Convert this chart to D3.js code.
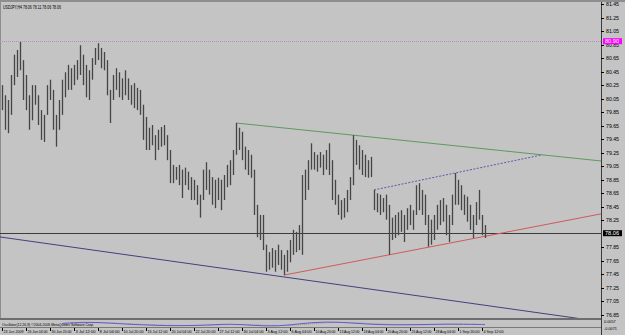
<!DOCTYPE html>
<html lang="en">
<head>
<meta charset="utf-8" />
<title>USDJPY H4</title>
<script src="https://cdnjs.cloudflare.com/ajax/libs/d3/7.8.5/d3.min.js"></script>
<style>
    body { margin: 0; background: #c4c4c4; }
    svg { display: block; font-family: "Liberation Sans", "DejaVu Sans", sans-serif; }
</style>
</head>
<body>
<div id="vis"></div>
<script type="text/javascript">
    // ---- data (price, per H4 bar) ----
    var symbolTitle = "USDJPY,H4  78.06 78.11 78.06 78.06";
    var indicatorTitle = "Oscillator(12,26,9) \u00a92004-2005 MetaQuotes Software Corp.";

    var highs = [80.25, 80.10, 80.03, 80.40, 80.70, 80.77, 80.89, 80.62, 80.40, 80.10,
        80.25, 80.25, 80.10, 79.88, 79.81, 80.25, 80.33, 80.18, 79.81, 80.03,
        80.33, 80.44, 80.55, 80.50, 80.55, 80.62, 80.84, 80.70, 80.55, 80.47,
        80.65, 80.80, 80.87, 80.80, 80.74, 80.62, 80.18, 80.40, 80.50, 80.44,
        80.35, 80.47, 80.35, 80.25, 80.28, 80.21, 80.18, 79.96, 79.78, 79.62,
        79.66, 79.51, 79.59, 79.63, 79.66, 79.51, 79.29, 79.07, 79.04, 79.07,
        79.00, 79.03, 78.97, 78.89, 78.85, 78.77, 78.63, 79.00, 79.11, 79.00,
        78.89, 78.85, 78.88, 78.85, 78.92, 79.07, 79.14, 79.29, 79.69, 79.62,
        79.56, 79.34, 79.29, 79.22, 79.00, 78.48, 78.33, 78.33, 77.89, 77.78,
        77.84, 77.81, 77.89, 77.81, 77.74, 77.81, 77.96, 78.11, 78.08, 78.18,
        78.92, 79.00, 79.14, 79.39, 79.26, 79.22, 79.26, 79.22, 79.29, 79.39,
        79.14, 78.85, 78.63, 78.55, 78.58, 78.70, 78.89, 79.51, 79.44, 79.36,
        79.29, 79.22, 79.14, 79.19, 78.70, 78.65, 78.63, 78.58, 78.63, 78.48,
        78.29, 78.33, 78.37, 78.40, 78.33, 78.43, 78.48, 78.40, 78.77, 78.80,
        78.70, 78.63, 78.33, 78.26, 78.33, 78.48, 78.55, 78.58, 78.48, 78.33,
        78.63, 78.95, 78.85, 78.77, 78.63, 78.60, 78.48, 78.33, 78.52, 78.70,
        78.33, 78.18];

    var lows = [79.88, 79.59, 79.54, 79.81, 80.25, 80.37, 80.47, 80.03, 79.88, 79.59,
        79.73, 79.96, 79.66, 79.44, 79.41, 79.81, 80.03, 79.59, 79.34, 79.59,
        79.81, 80.07, 80.18, 80.18, 80.25, 80.33, 80.40, 80.25, 80.07, 80.03,
        80.33, 80.55, 80.62, 80.50, 80.47, 80.10, 79.69, 80.03, 80.18, 80.07,
        80.03, 80.10, 80.03, 79.96, 79.91, 79.88, 79.81, 79.44, 79.29, 79.29,
        79.36, 79.14, 79.29, 79.34, 79.36, 79.14, 78.80, 78.80, 78.85, 78.77,
        78.58, 78.77, 78.70, 78.55, 78.55, 78.48, 78.29, 78.55, 78.70, 78.63,
        78.48, 78.43, 78.55, 78.40, 78.55, 78.74, 78.77, 78.92, 79.22, 79.29,
        79.14, 79.00, 78.92, 78.88, 78.33, 78.00, 77.96, 77.81, 77.49, 77.52,
        77.55, 77.49, 77.59, 77.52, 77.44, 77.49, 77.63, 77.74, 77.78, 77.81,
        77.74, 78.55, 78.70, 79.00, 79.00, 78.97, 79.03, 78.92, 79.00, 78.92,
        78.55, 78.48, 78.33, 78.26, 78.29, 78.37, 78.55, 78.77, 79.07, 79.00,
        78.92, 78.89, 78.88, 78.89, 78.40, 78.37, 78.33, 78.37, 78.26, 77.74,
        77.96, 77.99, 78.03, 78.08, 77.93, 78.11, 78.18, 78.11, 78.33, 78.40,
        78.33, 78.18, 77.86, 77.89, 77.96, 78.11, 78.18, 78.23, 78.03, 77.93,
        78.18, 78.48, 78.48, 78.40, 78.33, 78.23, 78.11, 77.99, 78.18, 78.26,
        78.03, 77.99];

    var lastPrice = 78.06;
    var levelPrice = 80.90;

    var priceTicks = [81.45, 81.25, 81.05, 80.85, 80.65, 80.45, 80.25, 80.05, 79.85, 79.65,
        79.45, 79.25, 79.05, 78.85, 78.65, 78.45, 78.25, 77.85, 77.65, 77.45, 77.25, 77.05, 76.85];

    var timeBars = [0, 8, 16, 24, 32, 40, 48, 56, 64, 72, 80, 88, 96, 104, 112, 120, 128, 136, 144, 152, 160];
    var timeLabels = ["23 Jun 2009", "26 Jun 04:00", "30 Jun 20:00", "3 Jul 12:00", "8 Jul 04:00",
        "10 Jul 20:00", "15 Jul 12:00", "20 Jul 04:00", "22 Jul 20:00", "27 Jul 12:00", "30 Jul 04:00",
        "3 Aug 12:00", "6 Aug 04:00", "10 Aug 20:00", "13 Aug 12:00", "18 Aug 04:00", "20 Aug 20:00",
        "25 Aug 12:00", "28 Aug 04:00", "1 Sep 20:00", "4 Sep 12:00"];

    // trend lines: two anchor bars/prices each
    var greenLine = [[78, 79.69], [117, 79.51]];
    var redLine = [[94, 77.44], [129, 77.74]];
    var navyLine = [[0, 78.00], [88, 77.45]];
    var dotLine = [[124, 78.70], [151, 78.95]];

    // sub window oscillator, sampled every 8 bars
    var oscBars = [20, 28, 36, 44, 52, 60, 68, 76, 84, 92, 100, 108, 116, 124, 132, 140, 148, 156, 161];
    var oscMain = [0.2, 0.7, 0.3, -0.2, -0.5, -0.6, -0.4, 0.1, -0.5, -0.8, 0.2, 0.8, 0.4, -0.2, -0.3, -0.2, 0.0, -0.1, -0.2];
    var oscSignal = [0.0, 0.4, 0.5, 0.0, -0.3, -0.5, -0.5, -0.1, -0.2, -0.6, -0.3, 0.5, 0.6, 0.1, -0.2, -0.3, -0.1, -0.1, -0.1];

    // ---- layout ----
    var W = 625, H = 335;
    var plotRight = 601, plotTop = 3, plotBottom = 318;
    var subTop = 321, subBottom = 327;

    var x = d3.scaleLinear().domain([0, 1]).range([2, 5]);
    var y = d3.scaleLinear().domain([76.85, 81.45]).range([315, 4]);
    var yOsc = d3.scaleLinear().domain([-1, 1]).range([subBottom, subTop]);

    var svg = d3.select("#vis").append("svg")
        .attr("width", W).attr("height", H);

    svg.append("rect").attr("width", W).attr("height", H).attr("fill", "#c4c4c4");
    svg.append("rect").attr("width", W).attr("height", 2).attr("fill", "#8e8e8e");
    svg.append("line").attr("x1", 0.5).attr("x2", 0.5).attr("y1", 2).attr("y2", plotBottom)
        .attr("stroke", "#8e8e8e");

    svg.append("clipPath").attr("id", "plotClip").append("rect")
        .attr("x", 0).attr("y", plotTop).attr("width", plotRight).attr("height", plotBottom - plotTop);

    var plot = svg.append("g").attr("clip-path", "url(#plotClip)");

    // horizontal level (magenta dotted) and last price line
    plot.append("line").attr("x1", 0).attr("x2", plotRight)
        .attr("y1", Math.round(y(levelPrice)) + 0.5).attr("y2", Math.round(y(levelPrice)) + 0.5)
        .attr("stroke", "#c586c5").attr("stroke-dasharray", "1,1");
    plot.append("line").attr("x1", 0).attr("x2", plotRight)
        .attr("y1", Math.round(y(lastPrice)) + 0.5).attr("y2", Math.round(y(lastPrice)) + 0.5)
        .attr("stroke", "#3c3c3c");

    function lineAt(pts, i) {
        var slope = (pts[1][1] - pts[0][1]) / (pts[1][0] - pts[0][0]);
        return pts[0][1] + slope * (i - pts[0][0]);
    }
    var rightBar = x.invert(plotRight);
    var leftBar = x.invert(0);

    function drawTrend(pts, i1, i2, color, dash) {
        plot.append("line")
            .attr("x1", x(i1)).attr("y1", y(lineAt(pts, i1)))
            .attr("x2", x(i2)).attr("y2", y(lineAt(pts, i2)))
            .attr("stroke", color).attr("stroke-width", 1)
            .attr("stroke-dasharray", dash || null);
    }

    // where the dotted line meets the green one
    var s1 = (greenLine[1][1] - greenLine[0][1]) / (greenLine[1][0] - greenLine[0][0]);
    var s2 = (dotLine[1][1] - dotLine[0][1]) / (dotLine[1][0] - dotLine[0][0]);
    var meet = (dotLine[0][1] - greenLine[0][1] + s1 * greenLine[0][0] - s2 * dotLine[0][0]) / (s1 - s2);

    drawTrend(navyLine, leftBar, rightBar, "#41417f");
    drawTrend(greenLine, greenLine[0][0], rightBar, "#5f9a5f");
    drawTrend(redLine, redLine[0][0], rightBar, "#d05a5a");
    drawTrend(dotLine, dotLine[0][0], meet, "#5a5aa8", "2,1.5");

    // price bars
    plot.selectAll("line.bar")
        .data(highs)
        .enter()
        .append("line")
        .classed("bar", true)
        .attr("x1", function (d, i) { return Math.round(x(i)) + 0.5; })
        .attr("x2", function (d, i) { return Math.round(x(i)) + 0.5; })
        .attr("y1", function (d) { return y(d); })
        .attr("y2", function (d, i) { return y(lows[i]); })
        .attr("stroke", "#454545")
        .attr("stroke-width", 1.3);

    // header text
    svg.append("text").attr("x", 3).attr("y", 8.5)
        .attr("font-size", 4.6).attr("fill", "#000")
        .attr("textLength", 58).attr("lengthAdjust", "spacingAndGlyphs")
        .text(symbolTitle);

    // price axis
    svg.append("line").attr("x1", plotRight + 0.5).attr("x2", plotRight + 0.5)
        .attr("y1", 2).attr("y2", H).attr("stroke", "#3c3c3c");
    var axis = svg.append("g");
    axis.selectAll("line.tick").data(priceTicks).enter().append("line")
        .attr("x1", plotRight).attr("x2", plotRight + 3)
        .attr("y1", function (d) { return Math.round(y(d)) + 0.5; })
        .attr("y2", function (d) { return Math.round(y(d)) + 0.5; })
        .attr("stroke", "#000");
    axis.selectAll("text").data(priceTicks).enter().append("text")
        .attr("x", plotRight + 5)
        .attr("y", function (d) { return y(d) + 2; })
        .attr("font-size", 5).attr("fill", "#000")
        .attr("textLength", 13).attr("lengthAdjust", "spacingAndGlyphs")
        .text(function (d) { return d3.format(".2f")(d); });

    function priceBox(p, bg, fg) {
        svg.append("rect").attr("x", plotRight + 2).attr("y", y(p) - 3)
            .attr("width", 19).attr("height", 6).attr("fill", bg);
        svg.append("text").attr("x", plotRight + 4).attr("y", y(p) + 2)
            .attr("font-size", 5).attr("fill", fg)
            .attr("textLength", 14).attr("lengthAdjust", "spacingAndGlyphs")
            .text(d3.format(".2f")(p));
    }
    priceBox(levelPrice, "#ff00ff", "#ffffff");
    priceBox(lastPrice, "#000000", "#ffffff");

    // sub window
    svg.append("rect").attr("x", 0).attr("y", plotBottom).attr("width", plotRight)
        .attr("height", 2).attr("fill", "#6e6e6e");
    svg.append("line").attr("x1", 0).attr("x2", plotRight).attr("y1", subBottom + 0.5).attr("y2", subBottom + 0.5)
        .attr("stroke", "#7a7a7a");

    var oscLine = d3.line()
        .x(function (d, i) { return x(oscBars[i]); })
        .y(function (d) { return yOsc(d); })
        .curve(d3.curveBasis);
    svg.append("path").datum(oscSignal).attr("d", oscLine)
        .attr("fill", "none").attr("stroke", "#8fa08f").attr("stroke-dasharray", "1,1");
    svg.append("path").datum(oscMain).attr("d", oscLine)
        .attr("fill", "none").attr("stroke", "#6a5acd");

    svg.append("text").attr("x", 2).attr("y", subBottom - 1)
        .attr("font-size", 4.2).attr("fill", "#000")
        .attr("textLength", 92).attr("lengthAdjust", "spacingAndGlyphs")
        .text(indicatorTitle);
    svg.append("text").attr("x", plotRight + 3).attr("y", subTop + 1.5)
        .attr("font-size", 3.8).attr("fill", "#000").text("0.0057");
    svg.append("text").attr("x", plotRight + 3).attr("y", subBottom + 2.5)
        .attr("font-size", 3.8).attr("fill", "#000").text("-0.0071");

    // time axis
    var tAxis = svg.append("g");
    tAxis.selectAll("line").data(timeBars).enter().append("line")
        .attr("x1", function (d) { return Math.round(x(d)) + 0.5; })
        .attr("x2", function (d) { return Math.round(x(d)) + 0.5; })
        .attr("y1", subBottom + 1).attr("y2", subBottom + 4)
        .attr("stroke", "#000");
    tAxis.selectAll("text").data(timeBars).enter().append("text")
        .attr("x", function (d) { return x(d) + 1.5; })
        .attr("y", H - 2)
        .attr("font-size", 4.2).attr("fill", "#000")
        .attr("textLength", 20).attr("lengthAdjust", "spacingAndGlyphs")
        .text(function (d, i) { return timeLabels[i]; });
</script>
</body>
</html>
